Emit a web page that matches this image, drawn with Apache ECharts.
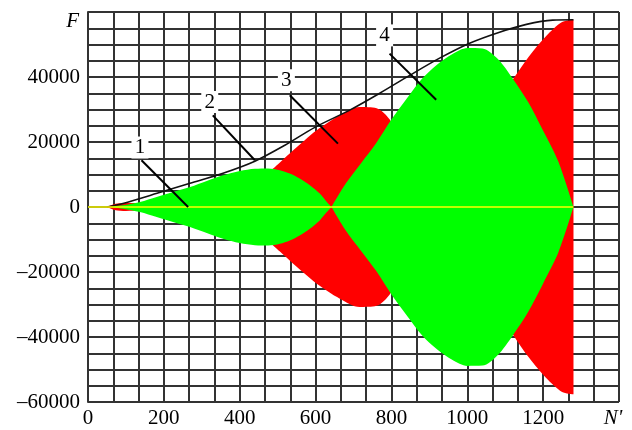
<!DOCTYPE html>
<html>
<head>
<meta charset="utf-8">
<script src="https://cdn.jsdelivr.net/npm/echarts@6/dist/echarts.min.js"></script>
<style>
	html, body { margin: 0; padding: 0; background: #fff; }
	#chart { width: 632px; height: 430px; }
</style>
</head>
<body>
<div id="chart"></div>
<script>
// envelope (curve 2)
var envX = [50, 92, 182, 269, 356, 440, 519, 598, 690, 769, 848, 927, 1006, 1085, 1156, 1225, 1280];
var envF = [0, 1100, 4200, 7300, 10400, 14100, 19000, 24500, 29800, 35000, 40500, 45800, 50400, 53800, 56200, 57500, 57600];

// red band (curve 3 and the right lobe)
var redX = [50, 70, 100, 140, 170, 300, 400, 440, 470, 488, 506, 541, 570, 603, 664, 716, 761, 795, 830, 900, 980, 1050, 1124, 1163, 1208, 1250, 1280];
var redF = [0, 900, 1200, 1100, 800, 1500, 3500, 6500, 9900, 11820, 13700, 17450, 20400, 23600, 28200, 30760, 30400, 27000, 20000, 12000, 15000, 27000, 39900, 46400, 52600, 56900, 57600];

// green band, first lobe (curve 1)
var greenAX = [50, 92, 137, 181, 224, 269, 313, 356, 400, 440, 475, 506, 532, 558, 585, 611, 628, 642];
var greenAF = [0, 520, 1540, 3080, 4620, 6150, 8000, 9750, 11080, 11750, 11850, 11300, 10270, 8740, 6670, 4120, 1800, 0];

// green band, second lobe (curve 4)
var greenBX = [642, 680, 720, 760, 800, 840, 880, 920, 960, 1000, 1040, 1080, 1120, 1160, 1200, 1240, 1280];
var greenBF = [0, 7300, 13500, 19700, 26900, 33300, 39400, 43800, 47000, 48900, 48800, 45600, 39500, 32400, 23500, 14000, 0];

// zero line
var zeroX = [0, 1280];

// numbered callouts
var tagNames = ['1', '2', '3', '4'];
var tagAt = [[137, 18300], [321, 32300], [523, 39000], [782, 52800]];
var tagFrom = [[141, 14400], [329, 28200], [532, 34400], [795, 47200]];
var tagTo = [[264, 0], [440, 14400], [659, 19500], [918, 33000]];

function pairs(xs, ys, sign) {
	return xs.map(function(x, i) { return [x, sign * ys[i]]; });
}

var gridLine = { color: '#333', width: 2 };
var serif = 'Liberation Serif';

var myChart = echarts.init(document.getElementById('chart'), null, { renderer: 'canvas' });

function band(name, xs, ys, sign, color) {
	return {
		name: name,
		type: 'line',
		data: pairs(xs, ys, sign),
		showSymbol: false,
		smooth: 0.3,
		lineStyle: { width: 0 },
		itemStyle: { color: color },
		areaStyle: { color: color, opacity: 1 },
		silent: true
	};
}

var option = {
	animation: false,
	grid: { left: 88, right: 13, top: 12, bottom: 28 },
	xAxis: {
		type: 'value',
		min: 0,
		max: 1400,
		interval: 200,
		axisLine: { show: true, lineStyle: gridLine },
		axisTick: { show: false },
		splitLine: { show: true, lineStyle: gridLine },
		minorTick: { show: false, splitNumber: 3 },
		minorSplitLine: { show: true, lineStyle: gridLine },
		axisLabel: {
			margin: 6,
			fontFamily: serif,
			fontSize: 21,
			color: '#000',
			formatter: function(v) {
				return v === 1400 ? "{n|N'}" : String(v);
			},
			rich: {
				n: { fontFamily: serif, fontSize: 21, fontStyle: 'italic', color: '#000', padding: [0, 12, 0, 0] }
			}
		}
	},
	yAxis: {
		type: 'value',
		min: -60000,
		max: 60000,
		interval: 20000,
		name: 'F',
		nameLocation: 'end',
		nameGap: -20,
		nameTextStyle: { fontFamily: serif, fontSize: 21, fontStyle: 'italic', color: '#000', align: 'right', padding: [0, 9, 0, 0] },
		axisLine: { show: true, lineStyle: gridLine },
		axisTick: { show: false },
		splitLine: { show: true, lineStyle: gridLine },
		minorTick: { show: false, splitNumber: 4 },
		minorSplitLine: { show: true, lineStyle: gridLine },
		axisLabel: {
			margin: 8,
			fontFamily: serif,
			fontSize: 21,
			color: '#000',
			formatter: function(v) {
				if (v === 60000) return '';
				return v < 0 ? '\u2013' + (-v) : String(v);
			}
		}
	},
	series: [
		band('red+', redX, redF, 1, '#ff0000'),
		band('red-', redX, redF, -1, '#ff0000'),
		band('green1+', greenAX, greenAF, 1, '#00ff00'),
		band('green1-', greenAX, greenAF, -1, '#00ff00'),
		band('green4+', greenBX, greenBF, 1, '#00ff00'),
		band('green4-', greenBX, greenBF, -1, '#00ff00'),
		{
			name: 'envelope',
			type: 'line',
			z: 5,
			data: pairs(envX, envF, 1),
			showSymbol: false,
			smooth: 0.3,
			lineStyle: { color: '#111', width: 1.6 },
			silent: true
		},
		{
			name: 'zero',
			type: 'line',
			z: 5,
			data: zeroX.map(function(x) { return [x, 0]; }),
			showSymbol: false,
			lineStyle: { color: '#ffff00', width: 1.5 },
			silent: true
		},
		{
			name: 'pointers',
			type: 'lines',
			z: 10,
			coordinateSystem: 'cartesian2d',
			data: tagFrom.map(function(p, i) { return { coords: [p, tagTo[i]] }; }),
			lineStyle: { color: '#000', width: 2, opacity: 1 },
			silent: true
		},
		{
			name: 'tags',
			type: 'scatter',
			z: 11,
			data: tagAt.map(function(p, i) { return { value: p, name: tagNames[i] }; }),
			symbol: 'rect',
			symbolSize: [17, 22],
			itemStyle: { color: '#fff', opacity: 1 },
			label: {
				show: true,
				position: 'inside',
				formatter: '{b}',
				fontFamily: serif,
				fontSize: 21,
				color: '#000'
			},
			silent: true
		}
	]
};

myChart.setOption(option);
</script>
</body>
</html>
